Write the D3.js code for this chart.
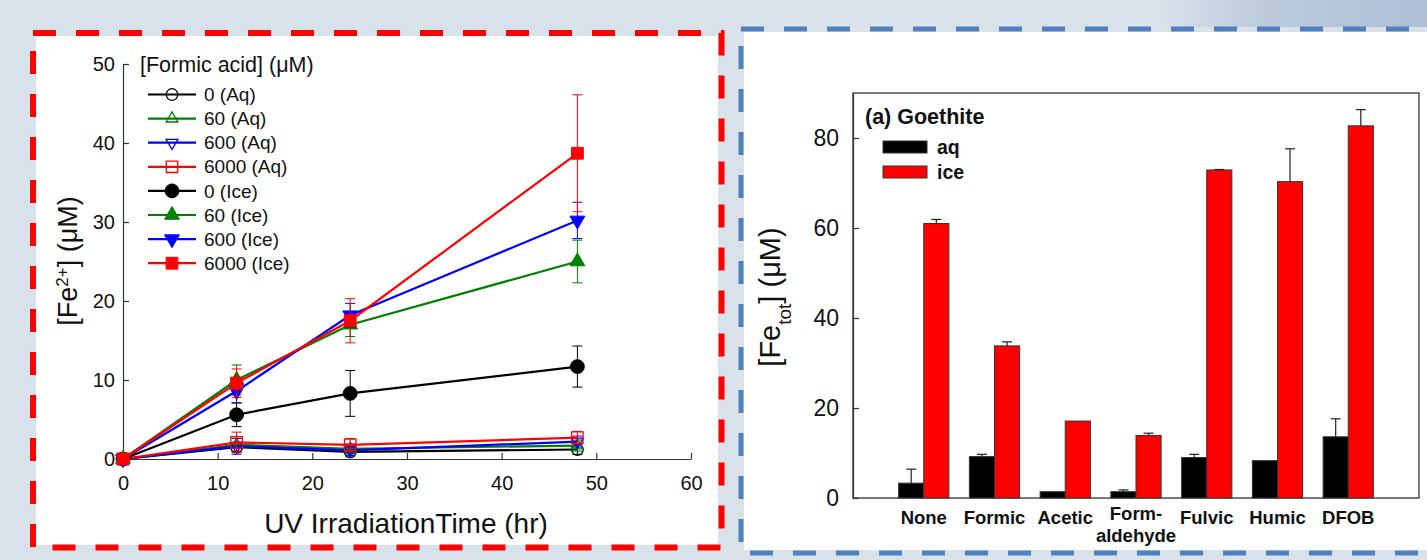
<!DOCTYPE html>
<html>
<head>
<meta charset="utf-8">
<script src="https://cdn.jsdelivr.net/npm/d3@7/dist/d3.min.js"></script>
<style>
    body { margin: 0; background: #d9e1eb; }
    svg { display: block; font-family: "Liberation Sans", Arial, sans-serif; }
</style>
</head>
<body>
<div id="main"></div>
<script>
// ---- left panel data: Fe(II) vs irradiation time ----
const times = [0, 12, 24, 48];
const xTicks = [0, 10, 20, 30, 40, 50, 60];
const yTicks = [0, 10, 20, 30, 40, 50];
const legendTitle = "[Formic acid] (\u03BCM)";
const seriesLabels = ["0 (Aq)", "60 (Aq)", "600 (Aq)", "6000 (Aq)", "0 (Ice)", "60 (Ice)", "600 (Ice)", "6000 (Ice)"];

const aq0 = [0, 1.5, 0.9, 1.2];
const aq0Err = [0, 0.6, 0.5, 0.6];
const aq60 = [0, 1.8, 1.3, 1.7];
const aq60Err = [0, 0.8, 0.6, 0.7];
const aq600 = [0, 1.6, 1.1, 2.2];
const aq600Err = [0, 1.0, 0.6, 0.7];
const aq6000 = [0, 2.1, 1.8, 2.7];
const aq6000Err = [0, 1.3, 0.8, 0.8];
const ice0 = [0, 5.6, 8.3, 11.7];
const ice0Err = [0, 1.5, 2.9, 2.6];
const ice60 = [0, 10.0, 17.0, 25.0];
const ice60Err = [0, 1.9, 1.5, 2.7];
const ice600 = [0, 8.6, 18.2, 30.2];
const ice600Err = [0, 1.5, 1.5, 2.3];
const ice6000 = [0, 9.6, 17.5, 38.7];
const ice6000Err = [0, 1.8, 2.8, 7.4];

// ---- right panel data: total Fe, goethite ----
const categories = ["None", "Formic", "Acetic", "Form-\naldehyde", "Fulvic", "Humic", "DFOB"];
const aqValues = [3.3, 9.2, 1.4, 1.4, 9.0, 8.3, 13.6];
const aqErrors = [3.1, 0.5, 0, 0.4, 0.7, 0, 4.0];
const iceValues = [61.0, 33.8, 17.1, 13.9, 72.9, 70.3, 82.7];
const iceErrors = [0.9, 0.9, 0, 0.5, 0.1, 7.3, 3.6];
const barTicks = [0, 20, 40, 60, 80];
const barLegend = ["aq", "ice"];

// styles
const colors = ["#000", "#008000", "#0000ff", "#ff0000", "#000", "#008000", "#0000ff", "#ff0000"];
const shapes = ["circle", "up", "down", "square", "circle", "up", "down", "square"];

const values = [aq0, aq60, aq600, aq6000, ice0, ice60, ice600, ice6000];
const errors = [aq0Err, aq60Err, aq600Err, aq6000Err, ice0Err, ice60Err, ice600Err, ice6000Err];
const series = seriesLabels.map((name, i) => ({
    name: name,
    color: colors[i],
    shape: shapes[i],
    filled: i >= 4,
    points: times.map((t, j) => ({t: t, v: values[i][j], e: errors[i][j]}))
}));

const W = 1427, H = 560;
const svg = d3.select('#main').append('svg')
    .attr('width', W)
    .attr('height', H);

// page background + a bit of shading at top right
const defs = svg.append('defs');
const grad = defs.append('linearGradient').attr('id', 'shade');
grad.append('stop').attr('offset', '0').attr('stop-color', '#d9e1eb');
grad.append('stop').attr('offset', '0.4').attr('stop-color', '#bccadc');
grad.append('stop').attr('offset', '1').attr('stop-color', '#aebfd6');
svg.append('rect').attr('width', W).attr('height', H).attr('fill', '#d9e1eb');
svg.append('rect').attr('x', 1160).attr('y', 0).attr('width', 267).attr('height', 27).attr('fill', 'url(#shade)');

// panel boxes
svg.append('rect').attr('x', 36).attr('y', 36).attr('width', 682).attr('height', 509).attr('fill', '#fff');
svg.append('rect').attr('x', 33).attr('y', 33).attr('width', 688.5).attr('height', 514.5)
    .attr('fill', 'none').attr('stroke', '#ff0000').attr('stroke-width', 6).attr('stroke-dasharray', '23,20');

svg.append('rect').attr('x', 744).attr('y', 32).attr('width', 690).attr('height', 518).attr('fill', '#fff');
svg.append('rect').attr('x', 741).attr('y', 29).attr('width', 700).attr('height', 524)
    .attr('fill', 'none').attr('stroke', '#4f81bd').attr('stroke-width', 5).attr('stroke-dasharray', '23,20');

// ================= left panel =================
const x = d3.scaleLinear().domain([0, 60]).range([123, 691]);
const y = d3.scaleLinear().domain([0, 50]).range([459, 64]);

function styleAxis(g, size) {
    g.attr('font-family', null).attr('font-size', size);
    g.select('.domain').attr('stroke', '#333').attr('stroke-width', 1.2);
    g.selectAll('.tick line').attr('stroke', '#333').attr('stroke-width', 1.2);
    g.selectAll('.tick text').attr('fill', '#111');
}

svg.append('g')
    .attr('transform', 'translate(0,459)')
    .call(d3.axisBottom(x).tickValues(xTicks).tickSizeInner(-6).tickSizeOuter(0).tickPadding(17))
    .call(g => styleAxis(g, 20));

svg.append('g')
    .attr('transform', 'translate(123,0)')
    .call(d3.axisLeft(y).tickValues(yTicks).tickSizeInner(-6).tickSizeOuter(0).tickPadding(8))
    .call(g => styleAxis(g, 20));

svg.append('text')
    .attr('x', 406).attr('y', 533)
    .attr('text-anchor', 'middle')
    .attr('font-size', 28)
    .attr('fill', '#111')
    .text('UV IrradiationTime (hr)');

const yLab = svg.append('text')
    .attr('transform', 'translate(77,261) rotate(-90)')
    .attr('text-anchor', 'middle')
    .attr('font-size', 27)
    .attr('fill', '#111');
yLab.append('tspan').text('[Fe');
yLab.append('tspan').attr('baseline-shift', 'super').attr('font-size', 17).text('2+');
yLab.append('tspan').text('] (\u03BCM)');

function markerPath(shape, filled) {
    let type = d3.symbolCircle, size;
    if (shape === 'circle') size = filled ? 150 : 105;
    if (shape === 'square') { type = d3.symbolSquare; size = filled ? 140 : 130; }
    if (shape === 'up' || shape === 'down') { type = d3.symbolTriangle; size = filled ? 95 : 60; }
    return d3.symbol().type(type).size(size)();
}

function drawMarker(g, s, cx, cy) {
    const rot = s.shape === 'down' ? ' rotate(180)' : '';
    g.append('path')
        .attr('d', markerPath(s.shape, s.filled))
        .attr('transform', 'translate(' + cx + ',' + cy + ')' + rot)
        .attr('fill', s.filled ? s.color : 'none')
        .attr('stroke', s.color)
        .attr('stroke-width', s.filled ? 1 : 1.3);
}

const line = d3.line().x(d => x(d.t)).y(d => y(d.v));

series.forEach(function (s) {
    const g = svg.append('g');
    // error bars
    s.points.filter(p => p.e > 0).forEach(function (p) {
        const px = x(p.t);
        g.append('line')
            .attr('x1', px).attr('x2', px)
            .attr('y1', y(p.v - p.e)).attr('y2', y(p.v + p.e))
            .attr('stroke', s.color).attr('stroke-width', 1);
        [p.v - p.e, p.v + p.e].forEach(function (v) {
            g.append('line')
                .attr('x1', px - 5).attr('x2', px + 5)
                .attr('y1', y(v)).attr('y2', y(v))
                .attr('stroke', s.color).attr('stroke-width', 1);
        });
    });
    g.append('path')
        .datum(s.points)
        .attr('d', line)
        .attr('fill', 'none')
        .attr('stroke', s.color)
        .attr('stroke-width', 2.2);
    s.points.forEach(p => drawMarker(g, s, x(p.t), y(p.v)));
});

// legend
svg.append('text')
    .attr('x', 140).attr('y', 64)
    .attr('dy', '0.35em')
    .attr('font-size', 21.5)
    .attr('fill', '#111')
    .text(legendTitle);

series.forEach(function (s, i) {
    const ly = 94.5 + i * 24.1;
    const g = svg.append('g');
    g.append('line')
        .attr('x1', 148).attr('x2', 196)
        .attr('y1', ly).attr('y2', ly)
        .attr('stroke', s.color).attr('stroke-width', 2.2);
    drawMarker(g, s, 172, ly);
    g.append('text')
        .attr('x', 204).attr('y', ly)
        .attr('dy', '0.35em')
        .attr('font-size', 19)
        .attr('fill', '#111')
        .text(s.name);
});

// ================= right panel =================
const xb = d3.scalePoint().domain(categories).range([853, 1419]).padding(1);
const yb = d3.scaleLinear().domain([0, 90]).range([498, 93]);
const barW = xb.step() * 0.355;

svg.append('rect')
    .attr('x', 853).attr('y', 93)
    .attr('width', 1419 - 853).attr('height', 498 - 93)
    .attr('fill', 'none').attr('stroke', '#222').attr('stroke-width', 1.2);

svg.append('g')
    .attr('transform', 'translate(853,0)')
    .call(d3.axisLeft(yb).tickValues(barTicks).tickSizeInner(-6).tickSizeOuter(0).tickPadding(14))
    .call(g => styleAxis(g, 23));

const fetLab = svg.append('text')
    .attr('transform', 'translate(780,297) rotate(-90)')
    .attr('text-anchor', 'middle')
    .attr('font-size', 29)
    .attr('fill', '#111');
fetLab.append('tspan').text('[Fe');
fetLab.append('tspan').attr('baseline-shift', 'sub').attr('font-size', 19).text('tot');
fetLab.append('tspan').text('] (\u03BCM)');

const barGroups = [
    {vals: aqValues, errs: aqErrors, color: '#000', dx: -barW},
    {vals: iceValues, errs: iceErrors, color: '#ff0000', dx: 0}
];

barGroups.forEach(function (bg) {
    categories.forEach(function (c, i) {
        const bx = xb(c) + bg.dx;
        svg.append('rect')
            .attr('x', bx).attr('y', yb(bg.vals[i]))
            .attr('width', barW).attr('height', yb(0) - yb(bg.vals[i]))
            .attr('fill', bg.color).attr('stroke', '#333').attr('stroke-width', 1);
        if (bg.errs[i] > 0) {
            const cx = bx + barW / 2;
            const top = yb(bg.vals[i] + bg.errs[i]);
            svg.append('line')
                .attr('x1', cx).attr('x2', cx)
                .attr('y1', yb(bg.vals[i])).attr('y2', top)
                .attr('stroke', '#222').attr('stroke-width', 1.2);
            svg.append('line')
                .attr('x1', cx - 5).attr('x2', cx + 5)
                .attr('y1', top).attr('y2', top)
                .attr('stroke', '#222').attr('stroke-width', 1.2);
        }
    });
});

// category labels
categories.forEach(function (c) {
    const parts = c.split('\n');
    const t = svg.append('text')
        .attr('x', xb(c))
        .attr('y', parts.length > 1 ? 519.5 : 524)
        .attr('text-anchor', 'middle')
        .attr('font-size', 18.5)
        .attr('font-weight', 'bold')
        .attr('fill', '#111');
    parts.forEach(function (p, k) {
        t.append('tspan')
            .attr('x', xb(c))
            .attr('dy', k === 0 ? 0 : 22)
            .text(p);
    });
});

// bar legend
svg.append('text')
    .attr('x', 865).attr('y', 124)
    .attr('font-size', 21.5)
    .attr('font-weight', 'bold')
    .attr('fill', '#111')
    .text('(a) Goethite');

barLegend.forEach(function (name, i) {
    const ly = 147 + i * 25;
    svg.append('rect')
        .attr('x', 883).attr('y', ly - 6)
        .attr('width', 44).attr('height', 12)
        .attr('fill', barGroups[i].color).attr('stroke', '#333').attr('stroke-width', 1);
    svg.append('text')
        .attr('x', 937).attr('y', ly)
        .attr('dy', '0.35em')
        .attr('font-size', 19.5)
        .attr('font-weight', 'bold')
        .attr('fill', '#111')
        .text(name);
});
</script>
</body>
</html>
